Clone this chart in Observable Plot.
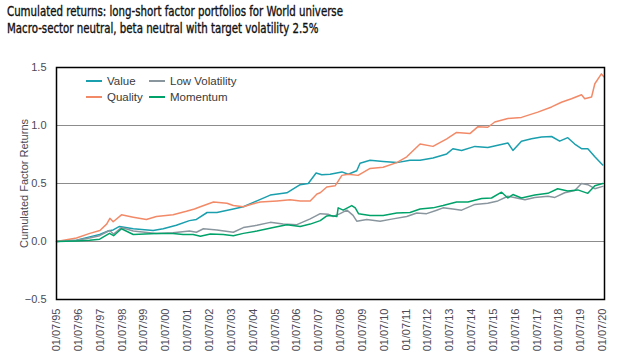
<!DOCTYPE html>
<html>
<head>
<meta charset="utf-8">
<script src="https://cdn.jsdelivr.net/npm/d3@7"></script>
<script src="https://cdn.jsdelivr.net/npm/@observablehq/plot@0.6"></script>
<style>
  html, body { margin: 0; padding: 0; background: #fff; }
  #wrap { position: relative; width: 618px; height: 364px; overflow: hidden; }
  #title { height: 40px; padding: 3px 0 0 7px; box-sizing: border-box;
    font-family: "DejaVu Sans Condensed", "Liberation Sans", sans-serif; font-size: 14px; color: #111; line-height: 17px;
    -webkit-text-stroke: 0.35px #111; }
  #title .ln { display: inline-block; white-space: nowrap; transform-origin: 0 50%; }
  .leg { position: absolute; display: flex; align-items: center; height: 14px; margin-top: -7px;
    font-family: "Liberation Sans", sans-serif; font-size: 11.5px; color: #3a3a3a; white-space: nowrap; }
  .leg .sw { width: 16px; height: 2px; margin-right: 5px; }
</style>
</head>
<body>
<div id="wrap">
  <div id="title"><span class="ln" id="t1">Cumulated returns: long-short factor portfolios for World universe</span><br><span class="ln" id="t2">Macro-sector neutral, beta neutral with target volatility 2.5%</span></div>
  <div id="chart"></div>
</div>
<script>
// Series names and colours
const seriesNames = ["Value", "Quality", "Low Volatility", "Momentum"];
const seriesColors = ["#1a9fae", "#f28a68", "#8a969e", "#00a26a"];

// Dates as decimal years
const valueYears = [1995.5,1996.41,1997.01,1997.47,1997.86,1998.09,1998.38,1999.01,1999.92,2000.38,2000.98,2001.58,2001.9,2002.39,2002.84,2003.59,2004.05,2004.67,2005.28,2006.04,2006.65,2007.02,2007.38,2007.64,2008.02,2008.56,2008.85,2009.24,2009.39,2009.85,2010.45,2011.07,2011.68,2012.14,2012.73,2013.36,2013.64,2014.04,2014.65,2015.24,2015.7,2016.16,2016.39,2016.78,2017.24,2017.7,2018.16,2018.53,2018.9,2019.22,2019.53,2019.82,2020.14,2020.5];
const valueReturns = [0,0.01,0.04,0.06,0.09,0.10,0.13,0.11,0.095,0.11,0.14,0.18,0.19,0.25,0.25,0.28,0.30,0.35,0.40,0.42,0.49,0.50,0.59,0.575,0.58,0.60,0.58,0.61,0.675,0.70,0.69,0.68,0.70,0.70,0.72,0.755,0.80,0.785,0.82,0.81,0.83,0.85,0.785,0.865,0.885,0.90,0.905,0.865,0.895,0.84,0.80,0.80,0.73,0.66];

const qualityYears = [1995.5,1996.41,1997.02,1997.48,1997.79,1997.94,1998.09,1998.47,1999.01,1999.61,2000.07,2000.83,2001.44,2001.81,2002.08,2002.68,2003.3,2003.59,2004.05,2004.5,2004.82,2005.59,2006.19,2006.65,2007.11,2007.42,2007.57,2007.87,2008.25,2008.56,2008.85,2009.3,2009.85,2010.45,2011.07,2011.53,2012.14,2012.73,2013.36,2013.81,2014.42,2014.79,2015.24,2015.56,2016.16,2016.78,2017.53,2018.16,2018.61,2019.07,2019.53,2019.68,2019.99,2020.14,2020.44,2020.55];
const qualityReturns = [0,0.03,0.07,0.095,0.15,0.20,0.17,0.23,0.21,0.19,0.215,0.23,0.26,0.28,0.30,0.34,0.33,0.31,0.30,0.325,0.34,0.35,0.36,0.35,0.35,0.41,0.42,0.47,0.48,0.57,0.58,0.57,0.63,0.64,0.68,0.73,0.84,0.82,0.885,0.94,0.93,0.99,0.985,1.03,1.06,1.07,1.115,1.16,1.20,1.23,1.265,1.23,1.245,1.36,1.445,1.42];

const lowVolYears = [1995.5,1996.41,1997.01,1997.47,1997.92,1998.11,1998.47,1999.01,2000.07,2000.83,2001.58,2001.9,2002.22,2002.84,2003.59,2004.05,2004.67,2005.28,2005.87,2006.5,2007.11,2007.57,2007.93,2008.16,2008.48,2008.79,2009.07,2009.24,2009.7,2010.31,2010.9,2011.53,2011.99,2012.44,2012.9,2013.19,2013.64,2014.04,2014.65,2015.24,2015.7,2016.16,2016.56,2016.94,2017.39,2018.0,2018.31,2018.76,2019.22,2019.53,2019.82,2020.14,2020.5];
const lowVolReturns = [0,0.01,0.03,0.05,0.095,0.065,0.12,0.09,0.07,0.075,0.09,0.08,0.11,0.10,0.08,0.12,0.14,0.165,0.15,0.145,0.195,0.24,0.235,0.215,0.24,0.27,0.225,0.175,0.19,0.175,0.195,0.215,0.245,0.24,0.27,0.29,0.28,0.27,0.32,0.33,0.35,0.39,0.375,0.36,0.38,0.39,0.38,0.42,0.44,0.50,0.49,0.455,0.475];

const momentumYears = [1995.5,1996.41,1997.01,1997.47,1997.92,1998.11,1998.47,1999.01,2000.07,2000.83,2001.29,2001.75,2002.08,2002.54,2003.13,2003.59,2004.05,2004.67,2005.42,2006.04,2006.65,2007.11,2007.57,2007.87,2008.02,2008.33,2008.39,2008.62,2009.01,2009.17,2009.32,2009.85,2010.45,2011.07,2011.68,2012.14,2012.73,2013.19,2013.81,2014.33,2014.96,2015.41,2015.87,2016.16,2016.39,2016.78,2017.39,2017.99,2018.44,2018.9,2019.36,2019.82,2020.14,2020.5];
const momentumReturns = [0,0.005,0.01,0.02,0.07,0.05,0.11,0.06,0.07,0.07,0.06,0.06,0.045,0.065,0.06,0.05,0.07,0.09,0.12,0.145,0.13,0.15,0.18,0.22,0.225,0.215,0.29,0.27,0.31,0.29,0.24,0.225,0.225,0.245,0.25,0.28,0.29,0.31,0.34,0.34,0.37,0.375,0.425,0.375,0.405,0.375,0.40,0.415,0.455,0.435,0.445,0.415,0.48,0.50];

// Axis ticks
const xTickYears = d3.range(1995, 2021);
const yTicks = [-0.5, 0, 0.5, 1.0, 1.5];
const gridTicks = [0, 0.5, 1.0];

function toDate(y) {
  const yr = Math.floor(y);
  const start = Date.UTC(yr, 0, 1), end = Date.UTC(yr + 1, 0, 1);
  return new Date(start + (y - yr) * (end - start));
}

// fit title lines to the reference width
const t1 = document.getElementById("t1"), t2 = document.getElementById("t2");
const sc = 336 / t1.getBoundingClientRect().width;
t1.style.transform = `scaleX(${sc})`;
t2.style.transform = `scaleX(${sc})`;

const yearsArr = [valueYears, qualityYears, lowVolYears, momentumYears];
const valsArr = [valueReturns, qualityReturns, lowVolReturns, momentumReturns];
const data = [];
seriesNames.forEach((name, i) => {
  yearsArr[i].forEach((y, j) => data.push({series: name, date: toDate(y), value: valsArr[i][j]}));
});
const tickDates = xTickYears.map(y => new Date(Date.UTC(y, 6, 1)));
const fmt = d => "01/07/" + String(d.getUTCFullYear() % 100).padStart(2, "0");

const chart = Plot.plot({
  width: 618,
  height: 324,
  marginLeft: 56,
  marginRight: 14,
  marginTop: 27,
  marginBottom: 65,
  style: {fontFamily: "'Liberation Sans', sans-serif", fontSize: "11px", color: "#4a4a55", background: "#fff"},
  x: {type: "utc", domain: [new Date(Date.UTC(1995, 6, 1)), new Date(Date.UTC(2020, 7, 1))], ticks: tickDates, tickFormat: fmt,
      tickRotate: -90, tickSize: 0, tickPadding: 9, label: null},
  y: {domain: [-0.5, 1.5], ticks: yTicks, tickFormat: d3.format(".1f"), tickSize: 0, tickPadding: 10,
      label: "Cumulated Factor Returns", labelAnchor: "center", labelArrow: "none", labelOffset: 36},
  color: {domain: seriesNames, range: seriesColors},
  marks: [
    Plot.ruleY(gridTicks, {stroke: "#8c8c8c", strokeWidth: 1.2}),
    Plot.lineY(data, {x: "date", y: "value", z: "series", stroke: "series", strokeWidth: 1.5, curve: "linear"}),
    Plot.frame({stroke: "#000", strokeWidth: 1.5})
  ]
});
document.getElementById("chart").appendChild(chart);

// Legend (inside the plot, two columns)
const wrap = document.getElementById("wrap");
const legendPos = [[86, 81], [86, 97], [149, 81], [149, 97]];
seriesNames.forEach((name, i) => {
  const item = document.createElement("div");
  item.className = "leg";
  item.style.left = legendPos[i][0] + "px";
  item.style.top = legendPos[i][1] + "px";
  item.innerHTML = `<span class="sw" style="background:${seriesColors[i]}"></span><span>${name}</span>`;
  wrap.appendChild(item);
});
</script>
</body>
</html>
